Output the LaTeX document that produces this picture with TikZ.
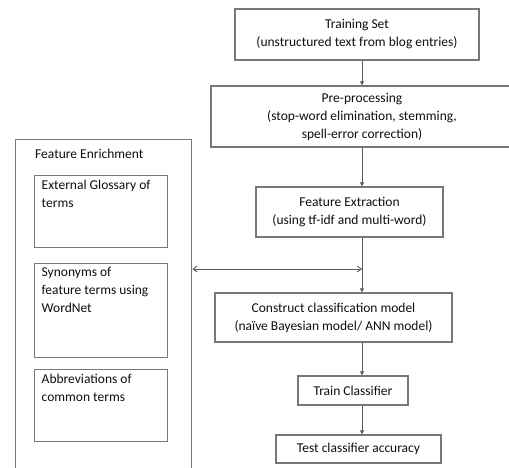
\documentclass[tikz,border=0pt]{standalone}
\usepackage{fontspec}
\setmainfont{Carlito}
\usetikzlibrary{arrows.meta}
\definecolor{linegray}{RGB}{120,120,120}
\definecolor{arrgray}{RGB}{90,90,90}
\definecolor{txt}{RGB}{15,15,15}
\newcommand\diagfont{\fontsize{13.5}{18}\selectfont}
\begin{document}
\begin{tikzpicture}[x=1pt,y=-1pt,
  box/.style={draw=linegray, line width=1.4pt, fill=white, inner sep=0pt, align=center, font=\diagfont, text=txt},
  ibox/.style={draw=linegray, line width=1.4pt, fill=white, anchor=north west, inner xsep=7pt, inner ysep=4pt, font=\diagfont, text=txt},
  panel/.style={draw=linegray, line width=1.4pt, anchor=north west, inner sep=0pt},
  arr/.style={draw=arrgray, line width=0.9pt, -{Triangle[length=4pt,width=4pt]}},
  darr/.style={draw=arrgray, line width=0.9pt, {Straight Barb[length=4pt,width=6pt]}-{Straight Barb[length=4pt,width=6pt]}}]
\useasboundingbox (0,0) rectangle (509,468);
\fill[white] (0,0) rectangle (509,468);
\clip (0,0) rectangle (509,468);

% left panel
\node[panel, minimum width=176pt, minimum height=336pt] (enrich) at (15,139) {};
\node[anchor=west, inner sep=0pt, font=\diagfont, text=txt] (enrichlabel) at (35,154) {Feature Enrichment};
\node[ibox] (glos) at (34,175) {\parbox[t][64pt][t]{119pt}{\raggedright External Glossary of\\terms}};
\node[ibox] (syn) at (34,263) {\parbox[t][86pt][t]{119pt}{\raggedright Synonyms of\\feature terms using\\WordNet}};
\node[ibox] (abbr) at (34,369) {\parbox[t][64pt][t]{119pt}{\raggedright Abbreviations of\\common terms}};

% main flow
\node[box, minimum width=244pt, minimum height=51pt] (train) at (357,34.5) {Training Set\\(unstructured text from blog entries)};
\node[box, minimum width=302pt, minimum height=61pt] (pre) at (362,116.5) {Pre-processing\\(stop-word elimination, stemming,\\spell-error correction)};
\node[box, minimum width=187pt, minimum height=50pt] (fe) at (349.5,212) {Feature Extraction\\(using tf-idf and multi-word)};
\node[box, minimum width=237pt, minimum height=49pt] (cons) at (333.5,317.5) {Construct classification model\\(na\"{\i}ve Bayesian model/ ANN model)};
\node[box, minimum width=110pt, minimum height=29pt] (tc) at (353,390.5) {Train Classifier};
\node[box, minimum width=165pt, minimum height=28pt] (test) at (358.5,449) {Test classifier accuracy};

\coordinate (spine) at (362,0);
\coordinate (meet) at (362,269);
\draw[arr] (train.south -| spine) -- (pre.north -| spine);
\draw[arr] (pre.south -| spine) -- (fe.north -| spine);
\draw[arr] (fe.south -| spine) -- (cons.north -| spine);
\draw[arr] (cons.south -| spine) -- (tc.north -| spine);
\draw[arr] (tc.south -| spine) -- (test.north -| spine);
\draw[darr] (meet -| enrich.east) -- (meet);
\end{tikzpicture}
\end{document}
